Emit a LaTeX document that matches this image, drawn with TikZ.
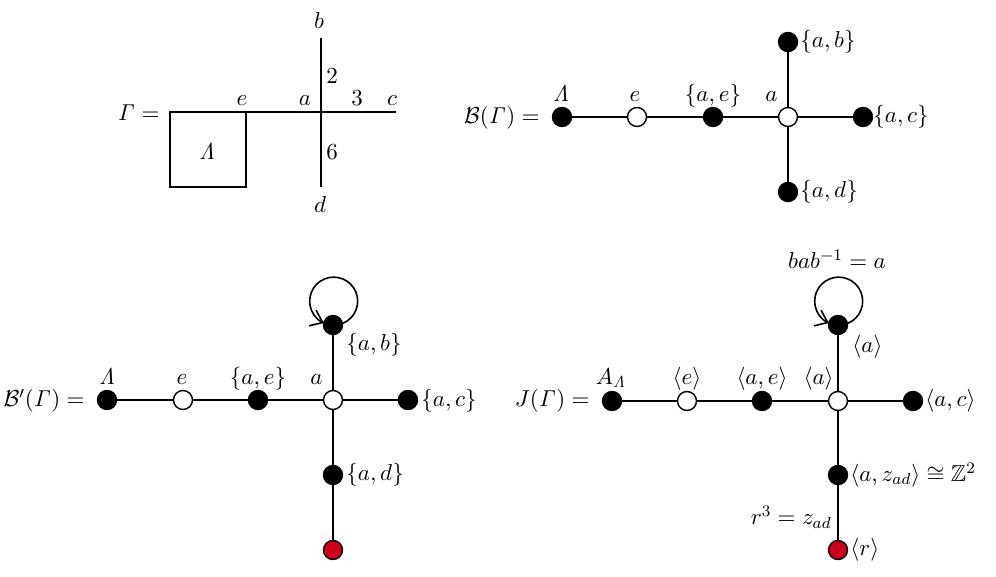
\RequirePackage{fix-cm}
\documentclass[tikz,border=0pt]{standalone}
\usepackage{amsmath,amssymb}
\usetikzlibrary{arrows.meta}
\definecolor{vred}{RGB}{204,0,24}
\newcommand{\iG}{\mathit{\Gamma}}
\newcommand{\iL}{\mathit{\Lambda}}
\begin{document}
\begin{tikzpicture}[x=0.5pt,y=-0.5pt,
  every node/.style={font=\fontsize{11.5}{13.5}\selectfont, inner sep=0pt},
  vtx/.style={circle, draw=black, line width=0.7pt, minimum size=9.5pt, inner sep=0pt},
  bvtx/.style={vtx, fill=black},
  wvtx/.style={vtx, fill=white},
  rvtx/.style={vtx, fill=vred},
  conn/.style={line width=0.8pt},
  looparrow/.style={line width=0.8pt, -{Straight Barb[length=5.5pt,width=8.5pt]}}
]
\useasboundingbox (0,0) rectangle (996,577);

% ---------- Gamma ----------
\coordinate (sqtl) at (170,112);
\coordinate (sqbr) at (246,187);
\coordinate (sqtr) at (246,112);
\coordinate (hc) at (396,112);
\coordinate (vb) at (321,38);
\coordinate (vd) at (321,187);
\draw[conn] (sqtl) rectangle (sqbr);
\draw[conn] (sqtr) -- (hc);
\draw[conn] (vb) -- (vd);
\node[anchor=east] (gam) at (160,113) {$\iG =$};
\node (lam) at (207,152) {$\iL$};
\node[anchor=base] (ge) at (242,106) {$e$};
\node[anchor=base] (ga) at (305,106) {$a$};
\node[anchor=base] (g3) at (357,106) {$3$};
\node[anchor=base] (gc) at (392,106) {$c$};
\node[anchor=base west] (g2) at (326,84) {$2$};
\node[anchor=base west] (g6) at (326,160) {$6$};
\node[anchor=base] (gb) at (319,29) {$b$};
\node[anchor=base] (gd) at (320,213) {$d$};

% ---------- B(Gamma) ----------
\node[anchor=east] (B1) at (540,118) {$\mathcal{B}(\iG) =$};
\node[bvtx] (L1) at (562,117) {};
\node[wvtx] (e1) at (637,117) {};
\node[bvtx] (ae1) at (713,117) {};
\node[wvtx] (a1) at (788,117) {};
\node[bvtx] (ac1) at (863,117) {};
\node[bvtx] (ab1) at (788,42) {};
\node[bvtx] (ad1) at (788,192) {};
\draw[conn] (L1) -- (e1) (e1) -- (ae1) (ae1) -- (a1) (a1) -- (ac1) (a1) -- (ab1) (a1) -- (ad1);
\node[anchor=base] (tL1) at (561,102) {$\iL$};
\node[anchor=base] (te1) at (635,102) {$e$};
\node[anchor=base] (tae1) at (713,102) {$\{a,e\}$};
\node[anchor=base east] (ta1) at (778,102) {$a$};
\node[anchor=west] (tab1) at (800,42) {$\{a,b\}$};
\node[anchor=west] (tac1) at (873,117) {$\{a,c\}$};
\node[anchor=west] (tad1) at (800,192) {$\{a,d\}$};

% ---------- B'(Gamma) ----------
\node[anchor=east] (B2) at (85,401) {$\mathcal{B}'(\iG) =$};
\node[bvtx] (L2) at (107,400) {};
\node[wvtx] (e2) at (183,400) {};
\node[bvtx] (ae2) at (258,400) {};
\node[wvtx] (a2) at (333,400) {};
\node[bvtx] (ac2) at (408,400) {};
\node[bvtx] (ab2) at (333,325) {};
\node[bvtx] (ad2) at (333,475) {};
\node[rvtx] (r2) at (333,550) {};
\draw[conn] (L2) -- (e2) (e2) -- (ae2) (ae2) -- (a2) (a2) -- (ac2) (a2) -- (ab2) (a2) -- (ad2) (ad2) -- (r2);
\draw[looparrow] (ab2.10) arc[start angle=67, end angle=-246, radius=24];
\node[anchor=base] (tL2) at (107,384) {$\iL$};
\node[anchor=base] (te2) at (182,384) {$e$};
\node[anchor=base] (tae2) at (258,384) {$\{a,e\}$};
\node[anchor=base east] (ta2) at (323,384) {$a$};
\node[anchor=west] (tab2) at (346,345) {$\{a,b\}$};
\node[anchor=west] (tac2) at (421,401) {$\{a,c\}$};
\node[anchor=west] (tad2) at (346,475) {$\{a,d\}$};

% ---------- J(Gamma) ----------
\node[anchor=east] (J) at (590,401) {$J(\iG) =$};
\node[bvtx] (L3) at (612,401) {};
\node[wvtx] (e3) at (687,401) {};
\node[bvtx] (ae3) at (762,401) {};
\node[wvtx] (a3) at (838,401) {};
\node[bvtx] (ac3) at (913,401) {};
\node[bvtx] (ab3) at (838,325) {};
\node[bvtx] (ad3) at (838,475) {};
\node[rvtx] (r3) at (838,550) {};
\draw[conn] (L3) -- (e3) (e3) -- (ae3) (ae3) -- (a3) (a3) -- (ac3) (a3) -- (ab3) (a3) -- (ad3) (ad3) -- (r3);
\draw[looparrow] (ab3.10) arc[start angle=67, end angle=-246, radius=24];
\node[anchor=base] (tbab) at (837,269) {$bab^{-1} = a$};
\node[anchor=base] (tL3) at (611,384) {$A_{\iL}$};
\node[anchor=base] (te3) at (687,384) {$\langle e\rangle$};
\node[anchor=base] (tae3) at (762,384) {$\langle a,e\rangle$};
\node[anchor=base east] (ta3) at (834,384) {$\langle a\rangle$};
\node[anchor=west] (tab3) at (852,347) {$\langle a\rangle$};
\node[anchor=west] (tac3) at (925,401) {$\langle a,c\rangle$};
\node[anchor=west] (tad3) at (850,475) {$\langle a,z_{ad}\rangle \cong \mathbb{Z}^2$};
\node[anchor=east] (trz) at (832,517) {$r^3 = z_{ad}$};
\node[anchor=west] (tr3) at (850,550) {$\langle r\rangle$};
\end{tikzpicture}
\end{document}
